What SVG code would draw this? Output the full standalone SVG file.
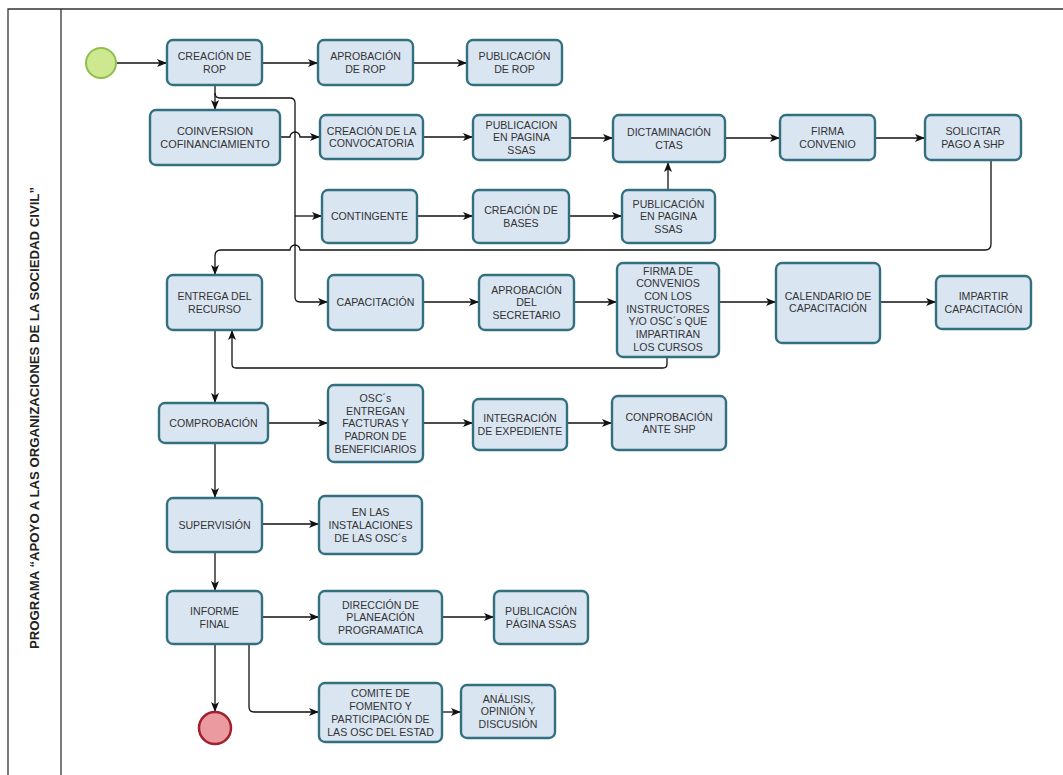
<svg xmlns="http://www.w3.org/2000/svg" width="1063" height="775" viewBox="0 0 1063 775">
<style>
.frame{fill:none;stroke:#333;stroke-width:1.3}
.box{fill:#dae5f2;stroke:#33707f;stroke-width:2.4}
.t{font-family:"Liberation Sans",Arial,sans-serif;font-size:10.6px;fill:#333;text-anchor:middle}
.c{fill:none;stroke:#111;stroke-width:1.3}
.title{font-family:"Liberation Sans",Arial,sans-serif;font-size:13.5px;font-weight:bold;fill:#222;text-anchor:middle}
</style>
<defs>
<marker id="ah" viewBox="0 0 10 8" refX="10" refY="4" markerWidth="10" markerHeight="8" markerUnits="userSpaceOnUse" orient="auto">
<path d="M0,0 L10,4 L0,8 L2.5,4 z" fill="#111"/>
</marker>
</defs>
<rect width="1063" height="775" fill="#fff"/>
<g id="frame">
<path class="frame" d="M8,775 V9 H1063 M61,9 V775"/>
<text class="title" transform="translate(39,418) rotate(-90)" textLength="462" lengthAdjust="spacingAndGlyphs">PROGRAMA “APOYO A LAS ORGANIZACIONES DE LA SOCIEDAD CIVIL”</text>
</g>
<g id="connectors">
<path class="c" marker-end="url(#ah)" d="M117,63 H167"/>
<path class="c" marker-end="url(#ah)" d="M262,63 H318"/>
<path class="c" marker-end="url(#ah)" d="M413,63 H467"/>
<path class="c" marker-end="url(#ah)" d="M215,85 V110"/>
<path class="c" marker-end="url(#ah)" d="M215,93 Q215,98 220,98 H290 Q295,98 295,103 V297 Q295,302 300,302 H328"/>
<path class="c" marker-end="url(#ah)" d="M295,216 H322"/>
<path class="c" marker-end="url(#ah)" d="M280,137 H290 A5,5 0 0 1 300,137 H320"/>
<path class="c" marker-end="url(#ah)" d="M423,137 H473"/>
<path class="c" marker-end="url(#ah)" d="M570,138 H613"/>
<path class="c" marker-end="url(#ah)" d="M725,138 H780"/>
<path class="c" marker-end="url(#ah)" d="M875,138 H925"/>
<path class="c" marker-end="url(#ah)" d="M417,216 H473"/>
<path class="c" marker-end="url(#ah)" d="M569,216 H622"/>
<path class="c" marker-end="url(#ah)" d="M668,190 V162"/>
<path class="c" marker-end="url(#ah)" d="M991,160 V244 Q991,250 985,250 H300 A5,5 0 0 0 290,250 H221 Q215,250 215,256 V275"/>
<path class="c" marker-end="url(#ah)" d="M423,302 H479"/>
<path class="c" marker-end="url(#ah)" d="M574,302 H617"/>
<path class="c" marker-end="url(#ah)" d="M719,302 H776"/>
<path class="c" marker-end="url(#ah)" d="M880,302 H936"/>
<path class="c" marker-end="url(#ah)" d="M667,357 V364 Q667,368 663,368 H236 Q232,368 232,364 V330"/>
<path class="c" marker-end="url(#ah)" d="M215,330 V403"/>
<path class="c" marker-end="url(#ah)" d="M268,423 H328"/>
<path class="c" marker-end="url(#ah)" d="M423,423 H473"/>
<path class="c" marker-end="url(#ah)" d="M567,423 H612"/>
<path class="c" marker-end="url(#ah)" d="M215,443 V498"/>
<path class="c" marker-end="url(#ah)" d="M262,524 H319"/>
<path class="c" marker-end="url(#ah)" d="M215,552 V591"/>
<path class="c" marker-end="url(#ah)" d="M262,617 H319"/>
<path class="c" marker-end="url(#ah)" d="M442,617 H494"/>
<path class="c" marker-end="url(#ah)" d="M215,644 V712"/>
<path class="c" marker-end="url(#ah)" d="M249,644 V707 Q249,712 254,712 H319"/>
<path class="c" marker-end="url(#ah)" d="M442,712 H461"/>
</g>
<g id="start"><circle cx="101" cy="63" r="15" fill="#cde88f" stroke="#8fbf4a" stroke-width="2"/></g>
<g id="end"><circle cx="215" cy="728" r="16" fill="#eb9a9f" stroke="#a3202f" stroke-width="2.5"/></g>
<g id="n1"><rect class="box" x="167" y="40" width="95" height="45" rx="6"/><text class="t"><tspan x="214.5" y="60">CREACIÓN DE</tspan><tspan x="214.5" y="72.8">ROP</tspan></text></g>
<g id="n2"><rect class="box" x="318" y="40" width="95" height="45" rx="6"/><text class="t"><tspan x="365.5" y="60">APROBACIÓN</tspan><tspan x="365.5" y="72.8">DE ROP</tspan></text></g>
<g id="n3"><rect class="box" x="467" y="40" width="95" height="45" rx="6"/><text class="t"><tspan x="514.5" y="60">PUBLICACIÓN</tspan><tspan x="514.5" y="72.8">DE ROP</tspan></text></g>
<g id="n4"><rect class="box" x="150" y="110" width="130" height="55" rx="6"/><text class="t" style="font-size:10.9px"><tspan x="215" y="135">COINVERSION</tspan><tspan x="215" y="147.8">COFINANCIAMIENTO</tspan></text></g>
<g id="n5"><rect class="box" x="320" y="115" width="103" height="44" rx="6"/><text class="t"><tspan x="371.5" y="134.5">CREACIÓN DE LA</tspan><tspan x="371.5" y="147.3">CONVOCATORIA</tspan></text></g>
<g id="n6"><rect class="box" x="473" y="115" width="97" height="45" rx="6"/><text class="t"><tspan x="521.5" y="128.6">PUBLICACION</tspan><tspan x="521.5" y="141.4">EN PAGINA</tspan><tspan x="521.5" y="154.2">SSAS</tspan></text></g>
<g id="n7"><rect class="box" x="613" y="115" width="112" height="47" rx="6"/><text class="t"><tspan x="669" y="136">DICTAMINACIÓN</tspan><tspan x="669" y="148.8">CTAS</tspan></text></g>
<g id="n8"><rect class="box" x="780" y="115" width="95" height="45" rx="6"/><text class="t"><tspan x="827.5" y="135">FIRMA</tspan><tspan x="827.5" y="147.8">CONVENIO</tspan></text></g>
<g id="n9"><rect class="box" x="925" y="115" width="96" height="45" rx="6"/><text class="t"><tspan x="973" y="135">SOLICITAR</tspan><tspan x="973" y="147.8">PAGO A SHP</tspan></text></g>
<g id="n10"><rect class="box" x="322" y="190" width="95" height="53" rx="6"/><text class="t"><tspan x="369.5" y="220.4">CONTINGENTE</tspan></text></g>
<g id="n11"><rect class="box" x="473" y="190" width="96" height="53" rx="6"/><text class="t"><tspan x="521" y="214">CREACIÓN DE</tspan><tspan x="521" y="226.8">BASES</tspan></text></g>
<g id="n12"><rect class="box" x="622" y="190" width="93" height="53" rx="6"/><text class="t"><tspan x="668.5" y="207.6">PUBLICACIÓN</tspan><tspan x="668.5" y="220.4">EN PAGINA</tspan><tspan x="668.5" y="233.2">SSAS</tspan></text></g>
<g id="n13"><rect class="box" x="167" y="275" width="95" height="55" rx="6"/><text class="t"><tspan x="214.5" y="300">ENTREGA DEL</tspan><tspan x="214.5" y="312.8">RECURSO</tspan></text></g>
<g id="n14"><rect class="box" x="328" y="275" width="95" height="55" rx="6"/><text class="t"><tspan x="375.5" y="306.4">CAPACITACIÓN</tspan></text></g>
<g id="n15"><rect class="box" x="479" y="275" width="95" height="55" rx="6"/><text class="t"><tspan x="526.5" y="293.6">APROBACIÓN</tspan><tspan x="526.5" y="306.4">DEL</tspan><tspan x="526.5" y="319.2">SECRETARIO</tspan></text></g>
<g id="n16"><rect class="box" x="617" y="263" width="102" height="94" rx="6"/><text class="t"><tspan x="668" y="274.5">FIRMA DE</tspan><tspan x="668" y="287.2">CONVENIOS</tspan><tspan x="668" y="299.9">CON LOS</tspan><tspan x="668" y="312.6">INSTRUCTORES</tspan><tspan x="668" y="325.3">Y/O OSC´s QUE</tspan><tspan x="668" y="338">IMPARTIRAN</tspan><tspan x="668" y="350.7">LOS CURSOS</tspan></text></g>
<g id="n17"><rect class="box" x="776" y="263" width="104" height="80" rx="6"/><text class="t"><tspan x="828" y="299.5">CALENDARIO DE</tspan><tspan x="828" y="312.3">CAPACITACIÓN</tspan></text></g>
<g id="n18"><rect class="box" x="936" y="276" width="95" height="53" rx="6"/><text class="t"><tspan x="983.5" y="300">IMPARTIR</tspan><tspan x="983.5" y="312.8">CAPACITACIÓN</tspan></text></g>
<g id="n19"><rect class="box" x="159" y="403" width="109" height="40" rx="6"/><text class="t"><tspan x="213.5" y="426.9">COMPROBACIÓN</tspan></text></g>
<g id="n20"><rect class="box" x="328" y="385" width="95" height="77" rx="6"/><text class="t"><tspan x="375.5" y="401.7">OSC´s</tspan><tspan x="375.5" y="414.5">ENTREGAN</tspan><tspan x="375.5" y="427.3">FACTURAS Y</tspan><tspan x="375.5" y="440.1">PADRON DE</tspan><tspan x="375.5" y="452.9">BENEFICIARIOS</tspan></text></g>
<g id="n21"><rect class="box" x="473" y="399" width="94" height="51" rx="6"/><text class="t"><tspan x="520" y="422">INTEGRACIÓN</tspan><tspan x="520" y="434.8">DE EXPEDIENTE</tspan></text></g>
<g id="n22"><rect class="box" x="612" y="396" width="114" height="54" rx="6"/><text class="t"><tspan x="669" y="420.5">CONPROBACIÓN</tspan><tspan x="669" y="433.3">ANTE SHP</tspan></text></g>
<g id="n23"><rect class="box" x="167" y="498" width="95" height="54" rx="6"/><text class="t"><tspan x="214.5" y="528.9">SUPERVISIÓN</tspan></text></g>
<g id="n24"><rect class="box" x="319" y="496" width="103" height="58" rx="6"/><text class="t"><tspan x="370.5" y="516.1">EN LAS</tspan><tspan x="370.5" y="528.9">INSTALACIONES</tspan><tspan x="370.5" y="541.7">DE LAS OSC´s</tspan></text></g>
<g id="n25"><rect class="box" x="167" y="591" width="95" height="53" rx="6"/><text class="t"><tspan x="214.5" y="615">INFORME</tspan><tspan x="214.5" y="627.8">FINAL</tspan></text></g>
<g id="n26"><rect class="box" x="319" y="591" width="123" height="53" rx="6"/><text class="t"><tspan x="380.5" y="608.6">DIRECCIÓN DE</tspan><tspan x="380.5" y="621.4">PLANEACIÓN</tspan><tspan x="380.5" y="634.2">PROGRAMATICA</tspan></text></g>
<g id="n27"><rect class="box" x="494" y="591" width="94" height="53" rx="6"/><text class="t"><tspan x="541" y="615">PUBLICACIÓN</tspan><tspan x="541" y="627.8">PÁGINA SSAS</tspan></text></g>
<g id="n28"><rect class="box" x="319" y="683" width="123" height="59" rx="6"/><text class="t"><tspan x="380.5" y="697.2">COMITE DE</tspan><tspan x="380.5" y="710">FOMENTO Y</tspan><tspan x="380.5" y="722.8">PARTICIPACIÓN DE</tspan><tspan x="380.5" y="735.6">LAS OSC DEL ESTAD</tspan></text></g>
<g id="n29"><rect class="box" x="461" y="685" width="94" height="53" rx="6"/><text class="t"><tspan x="508" y="702.6">ANÁLISIS,</tspan><tspan x="508" y="715.4">OPINIÓN Y</tspan><tspan x="508" y="728.2">DISCUSIÓN</tspan></text></g>
</svg>
